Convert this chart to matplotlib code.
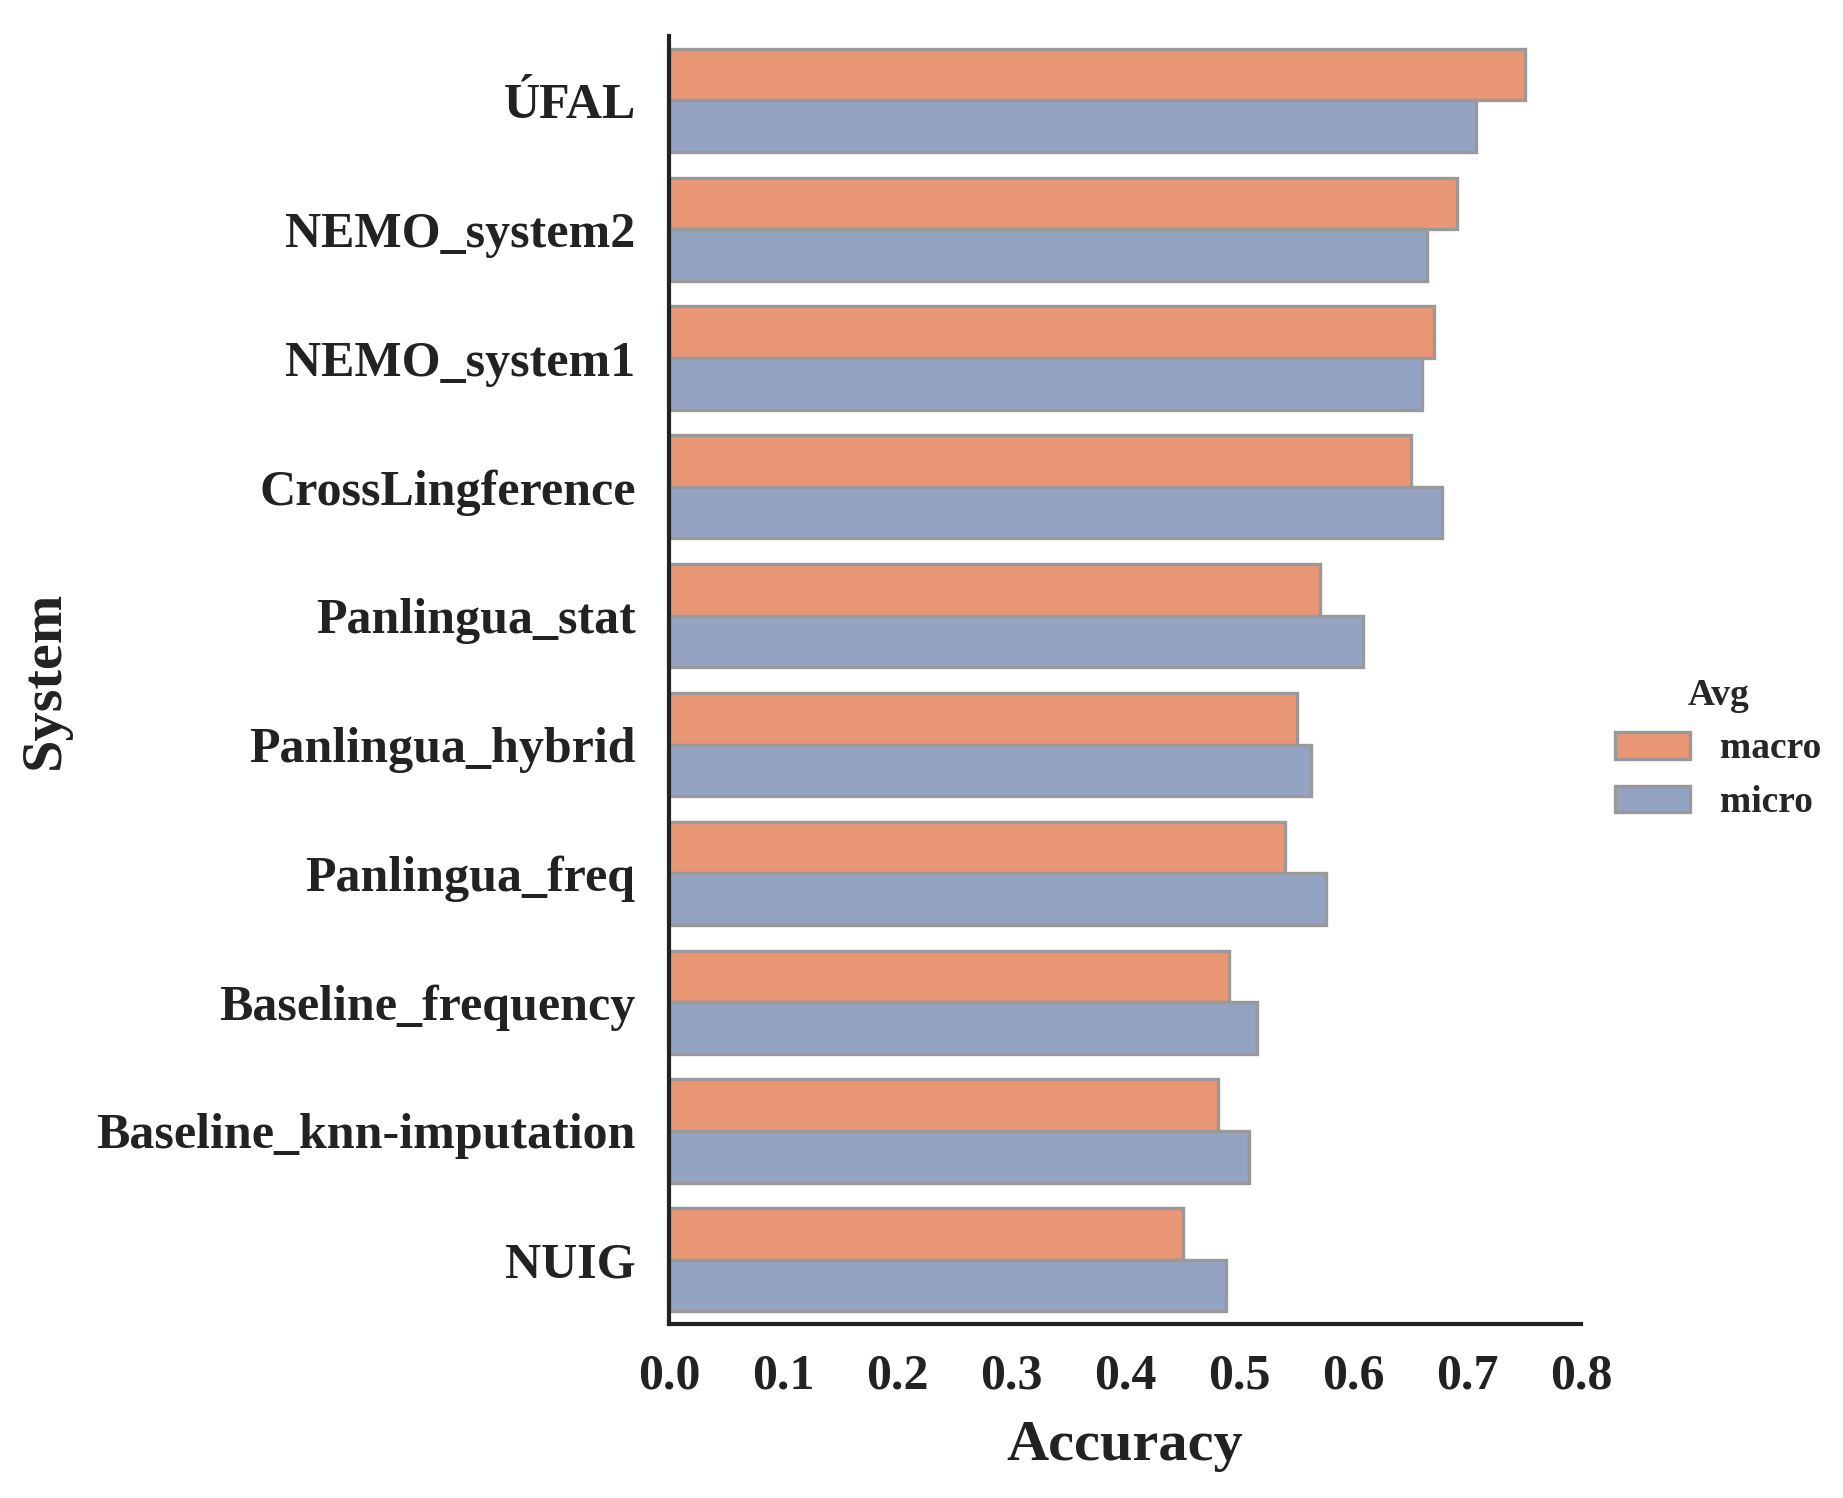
import pandas as pd
import seaborn as sns
import matplotlib.pyplot as plt

systems = ["ÚFAL", "NEMO_system2", "NEMO_system1", "CrossLingference",
           "Panlingua_stat", "Panlingua_hybrid", "Panlingua_freq",
           "Baseline_frequency", "Baseline_knn-imputation", "NUIG"]
macro = [0.751, 0.691, 0.671, 0.651, 0.571, 0.551, 0.540, 0.491, 0.481, 0.451]
micro = [0.708, 0.665, 0.660, 0.678, 0.609, 0.563, 0.576, 0.516, 0.509, 0.488]

df = pd.DataFrame({
    "System": systems * 2,
    "Accuracy": macro + micro,
    "Avg": ["macro"] * len(systems) + ["micro"] * len(systems),
})

sns.set_style("white")
plt.rcParams["font.family"] = ["Liberation Serif", "DejaVu Serif"]
plt.rcParams["font.weight"] = "bold"

set2 = sns.color_palette("Set2")
pal = {"macro": set2[1], "micro": set2[2]}

fig = plt.figure(figsize=(1843 / 300, 1498 / 300), dpi=300)
ax = fig.add_axes([0.363, 0.116, 0.495, 0.86])
sns.barplot(data=df, y="System", x="Accuracy", hue="Avg", palette=pal,
            edgecolor=".6", linewidth=0.8, ax=ax, orient="h")
sns.despine(ax=ax)
for s in ["left", "bottom"]:
    ax.spines[s].set_linewidth(1.0)
    ax.spines[s].set_color("#222222")

ax.set_xlim(0, 0.8)
ax.set_xticks([0.0, 0.1, 0.2, 0.3, 0.4, 0.5, 0.6, 0.7, 0.8])
ax.tick_params(axis="both", labelsize=12, colors="#222222", length=0)
ax.tick_params(axis="y", pad=8)
ax.tick_params(axis="x", pad=7)
for lab in ax.get_xticklabels() + ax.get_yticklabels():
    lab.set_fontweight("bold")
ax.set_xlabel("Accuracy", fontsize=14, fontweight="bold", color="#222222",
              labelpad=5)
ax.set_ylabel("System", fontsize=14, fontweight="bold", color="#222222",
              labelpad=6)

handles, labels = ax.get_legend_handles_labels()
ax.legend_.remove()
leg = fig.legend(handles, labels, title="Avg", loc="center left",
                 bbox_to_anchor=(0.858, 0.5), frameon=False,
                 prop={"size": 9, "weight": "bold"},
                 title_fontproperties={"size": 9, "weight": "bold"})

fig.savefig("out.png", dpi=300)
